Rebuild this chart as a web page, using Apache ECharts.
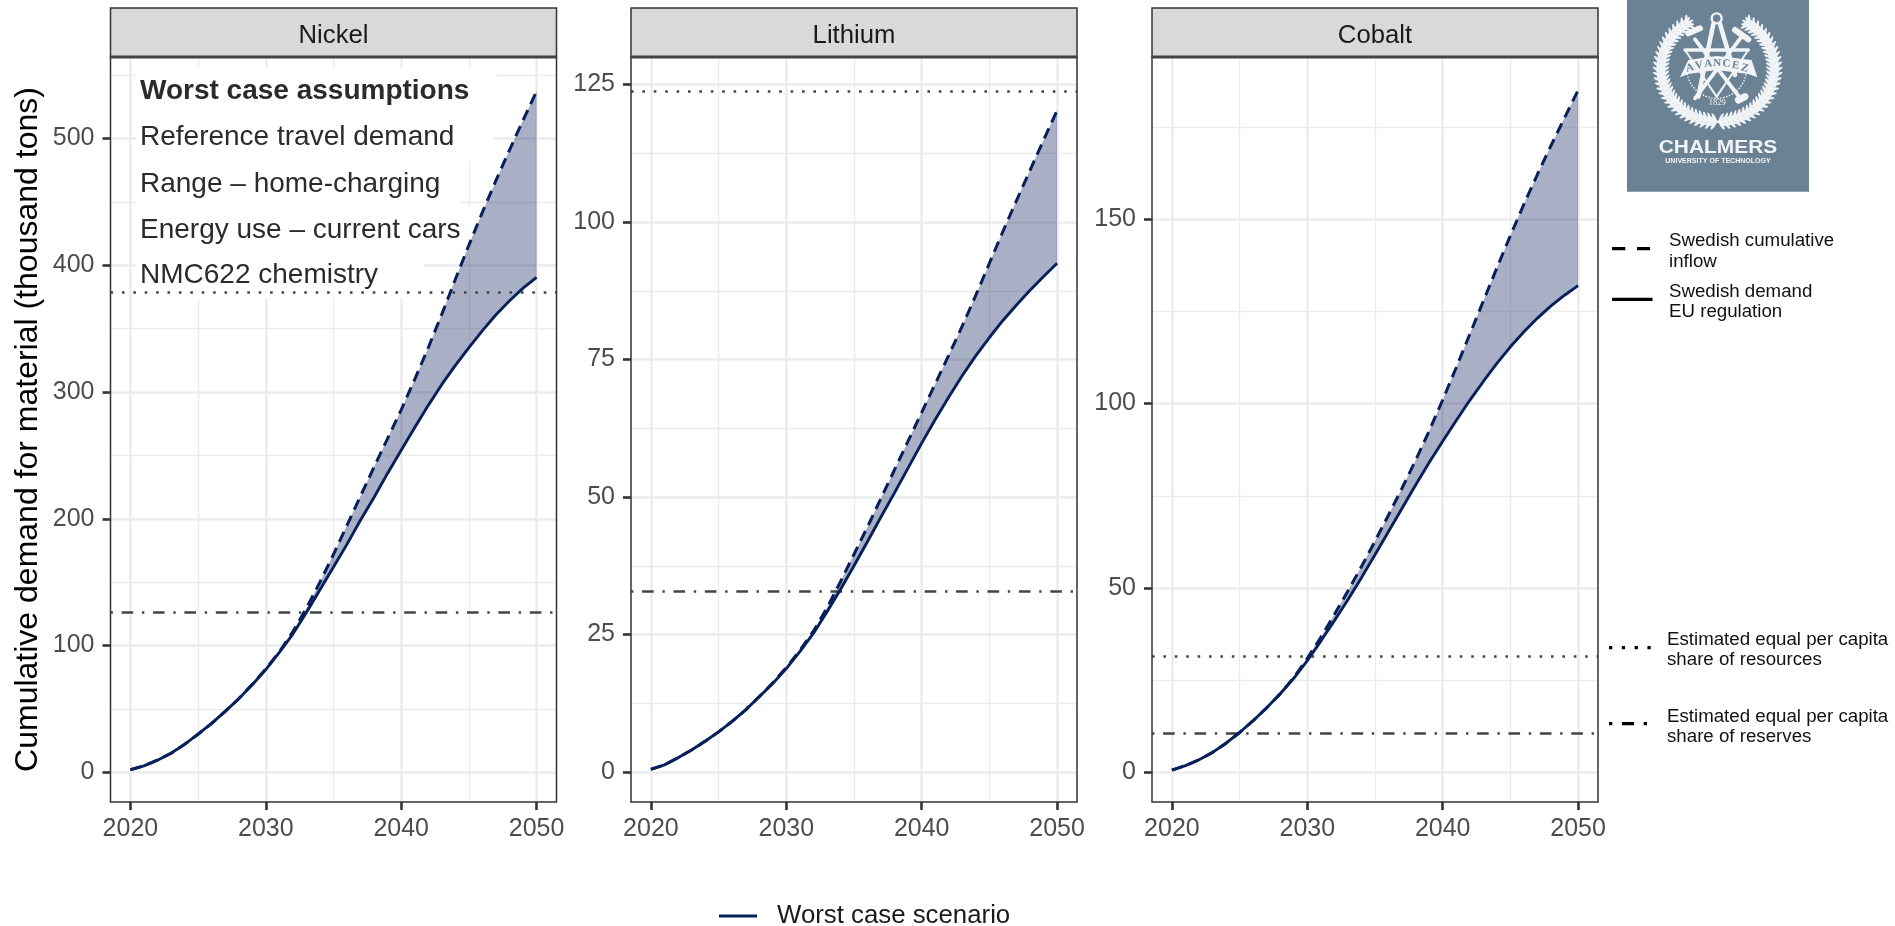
<!DOCTYPE html>
<html><head><meta charset="utf-8">
<style>html,body{margin:0;padding:0;background:#fff}#c{width:1895px;height:926px}</style>
<script src="https://cdn.jsdelivr.net/npm/echarts@6/dist/echarts.min.js"></script>
</head><body><div id="c"></div>
<script>
const years = [2020,2021,2022,2023,2024,2025,2026,2027,2028,2029,2030,2031,2032,2033,2034,2035,2036,2037,2038,2039,2040,2041,2042,2043,2044,2045,2046,2047,2048,2049,2050];
const xTicks = [2020,2030,2040,2050];
const xMinor = [2025,2035,2045];
const panelNames = ['Nickel','Lithium','Cobalt'];

const nickelSolid = [2,5,9.5,15,22,30,38.5,48,58,69,81,94.5,109,126,144,162,180,199,217,236,254,272,289.5,306,321,335,348.5,361,372,382,390.5];
const nickelDashed = [2,5,9.5,15,22,30,38.5,48,58,69.5,81.5,95,111,129.5,150,172,195,218,241,263.5,286,310,335,361.5,389,416,442,467,491,514.5,537.5];
const lithiumSolid = [0.5,1.3,2.6,4.0,5.6,7.3,9.2,11.3,13.7,16.1,18.8,21.9,25.2,29.1,33.2,37.5,41.9,46.4,50.8,55.3,59.8,64.1,68.2,72.1,75.7,79,82.1,84.9,87.6,90.1,92.5];
const lithiumDashed = [0.5,1.3,2.6,4.0,5.6,7.3,9.2,11.3,13.7,16.2,19,22.1,25.6,29.8,34.6,39.6,44.6,49.8,55,60.2,65.4,70.6,75.8,81.1,86.7,92.5,98.3,103.9,109.4,114.9,120.3];
const cobaltSolid = [0.6,1.8,3.4,5.4,7.9,10.8,14,17.5,21.3,25.5,30.3,35.6,41.1,46.8,52.8,59,65.3,71.6,77.9,84,89.8,95.4,100.9,106,110.9,115.4,119.5,123.2,126.5,129.4,132];
const cobaltDashed = [0.6,1.8,3.4,5.4,7.9,10.8,14,17.5,21.3,25.7,30.9,36.6,42.8,49.2,55.8,62.7,69.8,77.1,84.6,92.6,101,109.8,118.8,127.8,136.8,145.6,154.1,162.2,170,177.5,185];

const resourcesShare = [379,123.85,31.5];
const reservesShare = [126,32.85,10.5];

const nickelTicks = [0,100,200,300,400,500];
const lithiumTicks = [0,25,50,75,100,125];
const cobaltTicks = [0,50,100,150];
const nickelMinor = [50,150,250,350,450,550];
const lithiumMinor = [12.5,37.5,62.5,87.5,112.5];
const cobaltMinor = [25,75,125,175];

const assumptions = ['Worst case assumptions','Reference travel demand','Range \u2013 home-charging','Energy use \u2013 current cars','NMC622 chemistry'];

const solids=[nickelSolid,lithiumSolid,cobaltSolid], dashes=[nickelDashed,lithiumDashed,cobaltDashed];
const yTicks=[nickelTicks,lithiumTicks,cobaltTicks], yMinors=[nickelMinor,lithiumMinor,cobaltMinor];
const yRange=[[-23.5,564.4],[-5.45,130],[-8.05,194]];
const xRange=[2018.53,2051.47];
const lefts=[110.5,631,1152], W=446, TOP=57, BOT=802, STRIPTOP=8;
const NAVY='#06205c', INK='#444444', SANS='"Liberation Sans",Arial,sans-serif';
const LEG='Worst case scenario';

const grids=[],xAxes=[],yAxes=[],series=[],titles=[],graphics=[];
const axisBase=(vals)=>({
  axisLine:{show:false,onZero:false},splitLine:{show:false},minorTick:{show:false},
  axisTick:{show:true,length:8,customValues:vals,lineStyle:{color:'#333',width:2.6}},
  axisLabel:{show:true,customValues:vals,color:'#4d4d4d',fontSize:25,fontFamily:SANS,hideOverlap:false,formatter:v=>String(v)}
});
const gridLine=(o,w)=>Object.assign(o,{lineStyle:{color:'#ececec',width:w,type:'solid'}});
panelNames.forEach((name,i)=>{
  grids.push({left:lefts[i],top:TOP,width:W,height:BOT-TOP,containLabel:false,show:true,backgroundColor:'#fff',borderWidth:0});
  xAxes.push(Object.assign({type:'value',gridIndex:i,min:xRange[0],max:xRange[1]},axisBase(xTicks)));
  xAxes[i].axisLabel.margin=14.5;
  yAxes.push(Object.assign({type:'value',gridIndex:i,min:yRange[i][0],max:yRange[i][1]},axisBase(yTicks[i])));
  yAxes[i].axisLabel.margin=16;
  yAxes[i].axisLabel.padding=[3,0,0,0];
  if(i===0){Object.assign(yAxes[i],{name:'Cumulative demand for material (thousand tons)',nameLocation:'middle',nameGap:66,nameRotate:90,nameTextStyle:{fontSize:32,color:'#000',fontFamily:SANS}});}
  const S=solids[i],D=dashes[i];
  const pts=a=>a.map((v,k)=>[years[k],v]);
  const common={xAxisIndex:i,yAxisIndex:i,silent:true,animation:false};
  const line=Object.assign({type:'line',symbol:'none'},common);
  // gridlines
  series.push(Object.assign({},line,{name:name+' grid',data:[],z:0,markLine:{silent:true,z:0,symbol:'none',label:{show:false},animation:false,data:[
    ...yMinors[i].map(v=>gridLine({yAxis:v},1.3)),
    ...xMinor.map(v=>gridLine({xAxis:v},1.3)),
    ...yTicks[i].map(v=>gridLine({yAxis:v},2.5)),
    ...xTicks.map(v=>gridLine({xAxis:v},2.5))
  ]}}));
  // ribbon between the two curves
  series.push(Object.assign({},common,{type:'custom',name:name+' gap',z:2,clip:false,
    data:years.map((y,k)=>[y,S[k],D[k]]),encode:{x:0,y:[1,2]},
    renderItem:(params,api)=>{
      if(params.dataIndex!==0) return null;
      const up=years.map((y,k)=>api.coord([y,D[k]]));
      const lo=years.map((y,k)=>api.coord([y,S[k]])).reverse();
      return {type:'polygon',shape:{points:up.concat(lo)},style:{fill:'rgba(10,25,85,0.35)'}};
    }}));
  // reference lines
  series.push(Object.assign({},line,{name:name+' shares',data:[],z:3,markLine:{silent:true,z:3,symbol:'none',label:{show:false},animation:false,data:[
    {yAxis:resourcesShare[i],lineStyle:{color:INK,width:2.6,type:[2.6,8.8],cap:'butt'}},
    {yAxis:reservesShare[i],lineStyle:{color:INK,width:2.6,type:[2.4,8.7,11.6,8.7],cap:'butt'}}
  ]}}));
  series.push(Object.assign({},line,{name:name+' inflow',z:4,data:pts(D),lineStyle:{color:NAVY,width:3,type:[11,6.7]}}));
  series.push(Object.assign({},line,{name:LEG,z:4,data:pts(S),itemStyle:{color:NAVY},lineStyle:{color:NAVY,width:2.9}}));
  // strip
  graphics.push({type:'rect',z:1,shape:{x:lefts[i],y:STRIPTOP,width:W,height:TOP-STRIPTOP},style:{fill:'#d9d9d9',stroke:'#333',lineWidth:1.5}});
  graphics.push({type:'rect',z:8,shape:{x:lefts[i],y:TOP,width:W,height:BOT-TOP},style:{fill:'none',stroke:'#333',lineWidth:1.5}});
  graphics.push({type:'line',z:9,shape:{x1:lefts[i],y1:TOP,x2:lefts[i]+W,y2:TOP},style:{stroke:'#444',lineWidth:3}});
  titles.push({text:name,left:lefts[i]+W/2,top:22.5,padding:0,textAlign:'center',textStyle:{fontSize:25.7,fontWeight:'normal',color:'#1a1a1a',fontFamily:SANS}});
});

// annotation block
const noteY=[91.5,137.5,184.5,230.5,275.5], noteBox=[497,494,460,470,424];
assumptions.forEach((t,k)=>{
  graphics.push({type:'rect',z:1,shape:{x:136,y:noteY[k]-24,width:noteBox[k]-136,height:47},style:{fill:'#fff'}});
  graphics.push({type:'text',z:6,x:140,y:noteY[k],style:{text:t,fontFamily:SANS,fontSize:28,fontWeight:k===0?'bold':'normal',fill:'#2b2b2b',verticalAlign:'middle'}});
});

// right-hand key
const keyText=(x,y,t)=>({type:'text',z:6,x:x,y:y+1.5,style:{text:t,fontFamily:SANS,fontSize:18.7,fill:'#111',verticalAlign:'middle'}});
const keyLine=(x1,x2,y,dash)=>({type:'line',z:6,shape:{x1,y1:y,x2,y2:y},style:{stroke:'#000',lineWidth:3.3,lineDash:dash||null}});
graphics.push(keyLine(1612,1650,248.7,[13.3,11.7]),keyText(1669,239.5,'Swedish cumulative'),keyText(1669,260,'inflow'));
graphics.push(keyLine(1612,1652.5,299.3),keyText(1669,290,'Swedish demand'),keyText(1669,310.7,'EU regulation'));
graphics.push(keyLine(1609,1652,647.7,[3.3,9.5]),keyText(1667,638.3,'Estimated equal per capita'),keyText(1667,658.3,'share of resources'));
graphics.push(keyLine(1609,1648,723.7,[3.3,9.7,12,9.7]),keyText(1667,715,'Estimated equal per capita'),keyText(1667,735,'share of reserves'));

// logo
const SL='#6b8295', WH='#f1f4f6';
const lx=X=>1620+X/3, ly=Y=>Y/3;
graphics.push({type:'rect',z:1,shape:{x:1627,y:0,width:182,height:191.7},style:{fill:SL}});
const cx=293,cy=205;
[-1,1].forEach(side=>{
  for(let a=4;a<=150;a+=5){
    const r=a*Math.PI/180;
    const px=cx+side*170*Math.sin(r), py=cy+160*Math.cos(r);
    const tang=Math.atan2(-160*Math.sin(r),side*170*Math.cos(r));
    [-2,-1,0,1,2].forEach(o=>{
      const off=o*6.5;
      const qx=px+off*side*Math.sin(r), qy=py+off*Math.cos(r);
      graphics.push({type:'ellipse',z:2,x:lx(qx),y:ly(qy),rotation:-(tang+o*side*0.5),shape:{cx:0,cy:0,rx:o===0?5.5:4.5,ry:1.35},style:{fill:WH}});
    });
  }
});
const seg=(a,b,c,d,w)=>graphics.push({type:'line',z:3,shape:{x1:lx(a),y1:ly(b),x2:lx(c),y2:ly(d)},style:{stroke:WH,lineWidth:w,lineCap:'round'}});
graphics.push({type:'circle',z:3,shape:{cx:lx(290),cy:ly(55),r:5},style:{fill:'none',stroke:WH,lineWidth:2.4}});
seg(280,72,235,290,4.5);seg(300,72,345,225,4.5);
seg(225,118,365,300,3.8);seg(365,110,225,295,3.8);
seg(205,100,240,85,6);seg(345,90,385,118,6);seg(355,300,375,290,7);
seg(195,150,385,150,3.4);seg(195,150,290,290,2);seg(385,150,290,290,2);
graphics.push({type:'arc',z:3,shape:{cx:lx(290),cy:ly(205),r:30,startAngle:0.1,endAngle:3.04},style:{stroke:WH,lineWidth:1.4,fill:'none',lineDash:[1.5,1.5]}});
graphics.push({type:'polygon',z:3,shape:{points:[[lx(180),ly(232)],[lx(205),ly(180)],[lx(290),ly(168)],[lx(395),ly(180)],[lx(412),ly(232)],[lx(385),ly(222)],[lx(290),ly(210)],[lx(205),ly(222)]]},style:{fill:WH}});
'AVANCEZ'.split('').forEach((ch,k)=>{
  const dx=(k-3)*27.5;
  graphics.push({type:'text',z:4,x:lx(292+dx),y:ly(190+Math.abs(dx)*Math.abs(dx)/480),rotation:-dx/330,style:{text:ch,fontFamily:'"Liberation Serif",serif',fontWeight:'bold',fontSize:11,fill:SL,align:'center',verticalAlign:'middle'}});
});
graphics.push({type:'text',z:4,x:lx(292),y:ly(307),style:{text:'1829',fontFamily:'"Liberation Serif",serif',fontSize:8.5,fill:WH,align:'center',verticalAlign:'middle'}});
graphics.push({type:'text',z:4,x:1718,y:148,scaleX:1.13,style:{text:'CHALMERS',fontFamily:SANS,fontWeight:'bold',fontSize:18.5,fill:WH,align:'center',verticalAlign:'middle'}});
graphics.push({type:'text',z:4,x:1718,y:161,scaleX:1.1,style:{text:'UNIVERSITY OF TECHNOLOGY',fontFamily:SANS,fontWeight:'bold',fontSize:6.4,fill:WH,align:'center',verticalAlign:'middle'}});

const chart=echarts.init(document.getElementById('c'),null,{renderer:'canvas'});
chart.setOption({
  animation:false,backgroundColor:'#fff',
  title:titles,grid:grids,xAxis:xAxes,yAxis:yAxes,series:series,
  legend:{show:true,left:714,top:898,itemWidth:38,itemHeight:3,icon:'rect',data:[{name:LEG,itemStyle:{color:NAVY}}],selectedMode:false,
    textStyle:{fontSize:25.8,color:'#1a1a1a',fontFamily:SANS,padding:[0,0,0,15]}},
  graphic:{elements:graphics}
});
</script></body></html>
